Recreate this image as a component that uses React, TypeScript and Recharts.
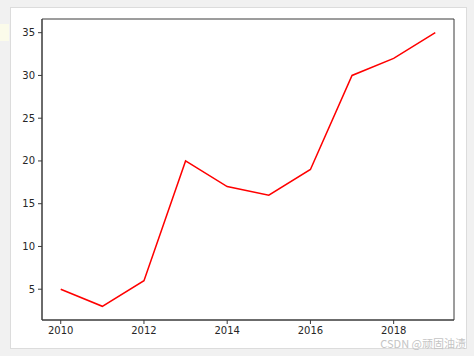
import React from 'react';
import { LineChart, Line, XAxis, YAxis, ReferenceArea } from 'recharts';

const years = [2010, 2011, 2012, 2013, 2014, 2015, 2016, 2017, 2018, 2019];
const values = [5, 3, 6, 20, 17, 16, 19, 30, 32, 35];
const xTicks = [2010, 2012, 2014, 2016, 2018];
const yTicks = [5, 10, 15, 20, 25, 30, 35];
const xDomain = [2009.55, 2019.45];
const yDomain = [1.4, 36.6];

const data = years.map((year, i) => ({ year, value: values[i] }));

const AXIS = '#3a3a3a';
const TICK_TEXT = { fontSize: 10, fill: '#262626', fontFamily: 'DejaVu Sans' };

export default function App() {
  return (
    <div style={{ position: 'absolute', left: 0, top: 0, width: 474, height: 356, background: '#f1f1f1', overflow: 'hidden' }}>
      {/* faint yellow smudge at the left edge */}
      <div style={{ position: 'absolute', left: 0, top: 24, width: 9, height: 17, background: '#fbfbea' }} />
      {/* white figure area */}
      <div
        style={{
          position: 'absolute',
          left: 10,
          top: 7,
          width: 455,
          height: 340,
          background: '#ffffff',
          border: '1px solid #dcdcdc',
        }}
      />
      <div style={{ position: 'absolute', left: 0, top: 0 }}>
        <LineChart width={474} height={356} data={data} margin={{ top: 19, right: 20, bottom: 0, left: 10 }}>
          <XAxis
            dataKey="year"
            type="number"
            domain={xDomain}
            ticks={xTicks}
            interval={0}
            height={36}
            tick={TICK_TEXT}
            tickSize={4}
            tickMargin={3}
            stroke={AXIS}
            axisLine={{ stroke: AXIS, strokeWidth: 1 }}
            tickLine={{ stroke: AXIS }}
          />
          <YAxis
            type="number"
            domain={yDomain}
            ticks={yTicks}
            interval={0}
            width={32}
            tick={TICK_TEXT}
            tickSize={4}
            tickMargin={3}
            stroke={AXIS}
            axisLine={{ stroke: AXIS, strokeWidth: 1 }}
            tickLine={{ stroke: AXIS }}
          />
          {/* axes frame (top and right spines) */}
          <ReferenceArea
            x1={xDomain[0]}
            x2={xDomain[1]}
            y1={yDomain[0]}
            y2={yDomain[1]}
            fill="none"
            stroke={AXIS}
            strokeWidth={1}
            ifOverflow="visible"
          />
          <Line
            type="linear"
            dataKey="value"
            stroke="#ff0000"
            strokeWidth={1.5}
            dot={false}
            activeDot={false}
            isAnimationActive={false}
          />
        </LineChart>
      </div>
      <div
        style={{
          position: 'absolute',
          right: 8,
          top: 337,
          fontSize: 11,
          lineHeight: '13px',
          color: '#c4c4c4',
          fontFamily: '"Noto Sans CJK SC", "Noto Sans", sans-serif',
          whiteSpace: 'nowrap',
        }}
      >
        CSDN @顽固油渍
      </div>
    </div>
  );
}
